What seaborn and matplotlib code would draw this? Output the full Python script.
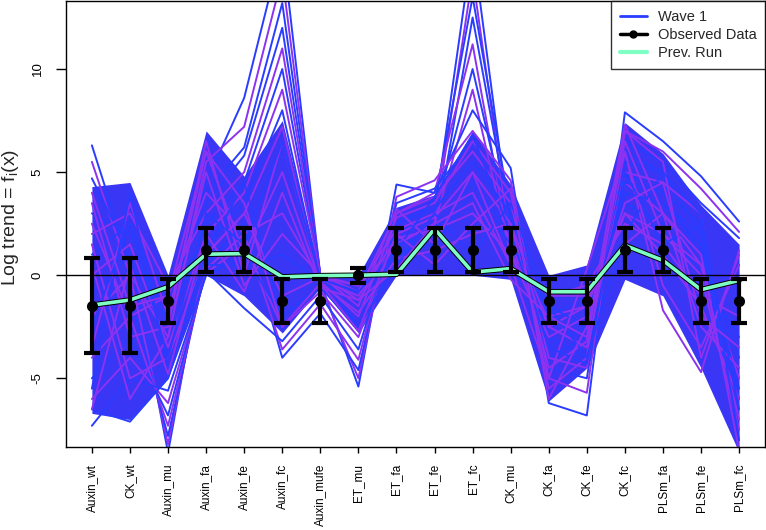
import numpy as np
import pandas as pd
import matplotlib
matplotlib.use("Agg")
import matplotlib.pyplot as plt
import matplotlib.patheffects as pe
from matplotlib.lines import Line2D
import seaborn as sns

# ---------------- data ----------------
categories = ["Auxin_wt", "CK_wt", "Auxin_mu", "Auxin_fa", "Auxin_fe", "Auxin_fc",
              "Auxin_mufe", "ET_mu", "ET_fa", "ET_fe", "ET_fc", "CK_mu", "CK_fa",
              "CK_fe", "CK_fc", "PLSm_fa", "PLSm_fe", "PLSm_fc"]

obs_value = [-1.48, -1.48, -1.25, 1.22, 1.22, -1.25, -1.25, 0.0, 1.22, 1.22,
             1.22, 1.22, -1.25, -1.25, 1.22, 1.22, -1.25, -1.25]
obs_error = [2.3, 2.3, 1.05, 1.07, 1.07, 1.05, 1.05, 0.36, 1.07, 1.07,
             1.07, 1.07, 1.05, 1.05, 1.07, 1.07, 1.05, 1.05]

prev_run = [-1.45, -1.2, -0.56, 1.02, 1.05, -0.08, -0.02, 0.0, 0.05, 2.25,
            0.15, 0.32, -0.8, -0.8, 1.45, 0.72, -0.7, -0.25]

# dense core of the wave-1 bundle (upper / lower edge)
core_hi = [4.3, 4.5, 0.0, 7.0, 4.8, 7.5, 0.0, 0.0, 3.3, 3.9, 7.0, 4.4, 0.0, 0.5, 7.4, 5.9, 3.4, 1.5]
core_lo = [-6.7, -7.0, -5.0, 0.0, -1.0, -2.8, -0.6, -2.8, 0.0, 0.0, 0.0, -0.2, -6.1, -4.5, -0.2, -1.0, -4.5, -8.6]

# individual wave-1 runs (outer lines)
run_01 = [6.3, 0.5, -2.0, 4.5, 8.6, 16.0, 0.0, -1.0, 2.0, 3.0, 16.0, 2.0, -3.0, -2.0, 5.0, 4.0, 1.0, -4.0]
run_02 = [5.5, 0.0, -3.0, 5.5, 7.2, 14.5, 0.0, -0.5, 1.5, 2.5, 14.5, 1.5, -2.5, -1.5, 4.5, 3.0, 0.5, -5.0]
run_03 = [4.7, 1.0, -1.5, 4.0, 6.2, 13.2, 0.0, -2.0, 2.5, 3.5, 13.5, 3.0, -4.0, -3.0, 6.0, 5.0, 2.0, -6.0]
run_04 = [3.0, 2.0, -1.0, 3.5, 5.8, 12.0, 0.0, -1.5, 1.0, 2.0, 12.5, 2.5, -2.0, -1.0, 3.5, 2.5, 0.0, -3.0]
run_05 = [2.0, 3.0, -0.5, 3.0, 5.0, 11.0, 0.0, -0.8, 3.0, 4.0, 11.2, 1.0, -1.0, -0.5, 2.5, 1.5, -1.0, -2.0]
run_06 = [1.0, 2.5, -2.5, 2.5, 4.5, 10.0, 0.0, -2.5, 2.0, 3.0, 10.0, 2.0, -3.5, -2.5, 4.0, 3.5, 1.5, -5.5]
run_07 = [0.0, 1.5, -3.5, 2.0, 4.0, 9.0, 0.0, -1.2, 1.5, 2.5, 9.0, 1.0, -2.0, -1.5, 3.0, 2.0, 0.5, -7.0]
run_08 = [-1.0, 1.0, -8.6, 1.5, 3.5, 8.0, -0.3, -5.4, 4.4, 4.0, 8.0, 5.2, -6.2, -6.8, 7.9, 6.5, 4.8, 2.6]
run_09 = [-2.0, 0.0, -8.2, 1.0, 3.0, 7.2, -0.5, -5.0, 3.8, 4.6, 7.0, 4.6, -5.0, -5.7, 7.0, 6.0, 4.2, 2.1]
run_10 = [-3.0, -1.0, -7.8, 0.5, 2.5, -4.0, -1.85, -4.6, 3.5, 4.2, 6.5, 4.0, -4.5, -5.0, 6.5, 5.5, 3.5, 1.8]
run_11 = [-4.0, -2.0, -7.3, 0.3, 2.0, -3.6, -1.4, -4.1, 3.0, 3.8, 6.0, 3.5, -4.0, -4.5, 6.0, -1.7, -4.7, 1.2]
run_12 = [-5.0, -3.0, -6.8, 0.2, -1.6, -3.2, -1.0, -3.6, 2.5, 3.2, 5.5, 3.0, -3.0, -4.0, 5.5, 5.0, -3.5, 0.5]
run_13 = [-6.0, -4.0, -6.2, 0.1, 1.5, -2.5, -0.8, -3.0, 2.0, 2.8, 5.0, 2.5, -2.5, -3.5, 5.0, 4.5, 3.0, -8.6]
run_14 = [-7.3, -5.0, -5.6, 0.0, 1.0, -2.0, -0.6, -2.5, 1.5, 2.0, 4.5, 2.0, -2.0, -3.0, 4.5, 4.0, 2.5, -8.6]
run_15 = [-6.5, -7.1, -5.0, 0.5, 0.5, 1.0, -0.3, -2.0, 1.0, 1.5, 4.0, 1.5, -1.5, -2.5, 4.0, 3.5, 2.0, -8.6]
run_16 = [2.5, -2.0, -1.0, 4.0, 2.0, 3.0, -0.2, -1.0, 1.8, 2.2, 3.0, 1.0, -3.0, -2.0, 3.0, 1.0, -1.5, -6.0]
run_17 = [-3.5, 3.5, -2.0, 6.0, 1.0, 5.0, -0.4, -1.8, 0.8, 1.2, 2.0, 2.5, -4.5, -3.2, 6.5, 2.0, 0.0, -7.5]
run_18 = [1.5, -5.0, -4.0, 1.0, 3.0, -1.0, -0.1, -0.5, 2.2, 3.0, 4.0, 0.5, -1.0, -1.0, 1.5, 3.0, -2.5, -4.5]
run_19 = [3.5, -3.0, -2.5, 6.5, 0.0, 6.5, -0.3, -2.0, 2.8, 3.5, 6.5, 4.0, -5.5, -4.0, 7.0, 5.5, -4.0, 1.0]
run_20 = [-5.5, 4.0, -4.5, 1.0, 4.5, -2.0, -0.5, -2.5, 0.5, 3.0, 1.0, 3.5, -1.5, -4.0, 2.0, 5.0, 3.0, -8.0]
run_21 = [0.5, -6.0, -3.0, 5.0, -0.5, 2.0, 0.0, -1.5, 3.2, 1.5, 5.0, 0.5, -5.0, 0.3, 6.0, -0.5, -3.5, 0.5]
run_22 = [-2.5, 2.5, -4.0, 3.0, 1.5, 6.5, -0.2, -0.8, 1.2, 3.8, 6.8, 2.0, -3.5, -4.3, 5.0, 1.5, 2.5, -6.5]
run_23 = [4.0, -1.5, -1.0, 6.0, 3.5, -2.5, -0.4, -2.7, 2.0, 0.5, 2.5, 4.2, -6.0, -2.5, 3.5, 4.5, -2.0, -3.5]
run_24 = [-6.5, 0.5, -4.8, 2.0, -0.8, 4.0, -0.6, -1.2, 0.3, 2.5, 3.5, -0.2, -2.0, -3.0, 7.3, 3.0, 1.0, -8.5]

runs = [run_01, run_02, run_03, run_04, run_05, run_06, run_07, run_08, run_09,
        run_10, run_11, run_12, run_13, run_14, run_15, run_16, run_17, run_18,
        run_19, run_20, run_21, run_22, run_23, run_24]
run_shade = ["b", "p", "b", "b", "p", "b", "p", "b", "p", "b", "p", "b", "p", "b",
             "b", "p", "p", "p", "p", "b", "p", "b", "p", "p"]

# ---------------- styling ----------------
BLUE = "#2a3cff"
PURPLE = "#8c32f0"
CORE = "#3a36f6"
AQUA = "#7fffc4"

sns.set_style("ticks")
plt.rcParams["font.family"] = ["Liberation Sans", "DejaVu Sans"]
plt.rcParams["mathtext.default"] = "regular"

fig = plt.figure(figsize=(7.66, 5.30), dpi=100)
ax = fig.add_axes([66 / 766, 83 / 530, 699 / 766, 446 / 530])

xpos = np.arange(len(categories))

# dense core of the bundle
ax.fill_between(xpos, core_lo, core_hi, color=CORE, lw=0, zorder=1)

rows = []
for i, (r, s) in enumerate(zip(runs, run_shade)):
    for j, v in enumerate(r):
        rows.append({"run": f"r{i}", "x": xpos[j], "value": v})
df = pd.DataFrame(rows)
palette = {f"r{i}": (BLUE if s == "b" else PURPLE) for i, s in enumerate(run_shade)}
sns.lineplot(data=df, x="x", y="value", hue="run", palette=palette, estimator=None,
             sort=False, legend=False, lw=1.4, ax=ax, zorder=2)

ax.axhline(0, color="black", lw=1.0, zorder=3)

prev_df = pd.DataFrame({"x": xpos, "value": prev_run})
sns.lineplot(data=prev_df, x="x", y="value", color=AQUA, lw=2.6, ax=ax, zorder=4,
             path_effects=[pe.Stroke(linewidth=4.0, foreground="black"), pe.Normal()])

ax.errorbar(xpos, obs_value, yerr=obs_error, fmt="o", color="black", ms=7,
            elinewidth=3, capsize=6, capthick=3, zorder=5)

ax.set_xlim(-0.68, 17.68)
ax.set_ylim(-8.33, 13.3)
ax.set_xticks(xpos)
ax.set_xticklabels(categories, rotation=90, fontsize=8.5)
ax.set_yticks([-5, 0, 5, 10])
ax.set_yticklabels(["-5", "0", "5", "10"], rotation=90, va="center", fontsize=9.5)
ax.tick_params(axis="x", length=4, width=1, pad=8, colors="black")
ax.tick_params(axis="y", length=7, width=1, pad=9, colors="black")
ax.set_xlabel("")
ax.set_ylabel(r"Log trend = $f_i(x)$", fontsize=14)
ax.yaxis.label.set_va("center")
ax.yaxis.set_label_coords(-0.0787, 0.515)
for sp in ax.spines.values():
    sp.set_visible(True)
    sp.set_color("black")
    sp.set_linewidth(1.0)

handles = [Line2D([], [], color=BLUE, lw=2),
           Line2D([], [], color="black", lw=2.5, marker="o", ms=5),
           Line2D([], [], color=AQUA, lw=3)]
leg = ax.legend(handles, ["Wave 1", "Observed Data", "Prev. Run"], loc="upper right",
                fontsize=10.5, frameon=True, fancybox=False, borderaxespad=0,
                handlelength=1.9, labelspacing=0.28, borderpad=0.6, handletextpad=0.7)
leg.get_frame().set_edgecolor("black")
leg.get_frame().set_linewidth(1.0)
leg.set_zorder(10)

fig.savefig("out.png", dpi=100)
